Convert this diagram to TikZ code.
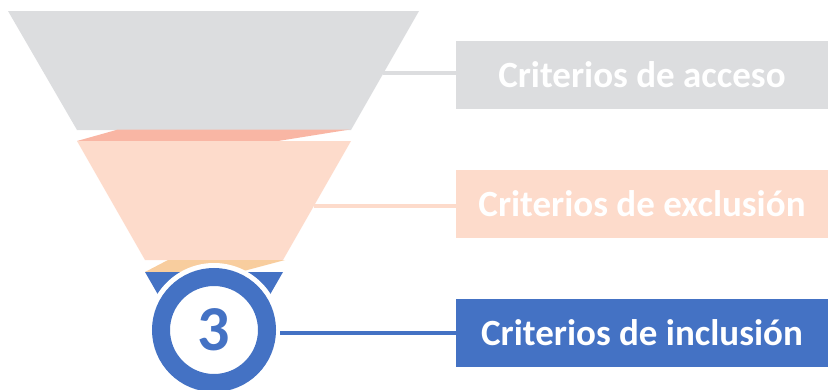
\documentclass[tikz,border=0pt]{standalone}
\usepackage{fontspec}
\setmainfont{Carlito}
\definecolor{tgray}{HTML}{DCDDDF}
\definecolor{tsalmon}{HTML}{F9B6A4}
\definecolor{tpeach}{HTML}{FDDBCB}
\definecolor{torange}{HTML}{F8CD9E}
\definecolor{tblue}{HTML}{4472C4}
\tikzset{
  label box/.style={minimum width=372pt, minimum height=68pt, inner sep=0pt, text=white,
    font=\fontsize{37}{37}\selectfont\bfseries},
  link/.style={line width=4pt}
}
\begin{document}
\begin{tikzpicture}[x=1pt,y=-1pt]
\useasboundingbox (0,0) rectangle (830,389);
\clip (0,0) rectangle (830,389);
% boxes
\node[label box, fill=tgray] (acc) at (642,75) {Criterios de acceso};
\node[label box, fill=tpeach] (exc) at (642,204) {Criterios de exclusión};
\node[label box, fill=tblue] (inc) at (642,332.5) {Criterios de inclusión};
% funnel levels
\coordinate (gr) at (383,73);
\coordinate (pr) at (314,206);
\draw[link, tgray] (gr) -- (gr -| acc.west);
\draw[link, tpeach] (pr) -- (pr -| exc.west);
\fill[tgray] (8,11) -- (419,11) -- (351,130) -- (77,130) -- cycle;
\fill[tsalmon] (77,141) -- (118,129.5) -- (350,129.5) -- (278,141) -- cycle;
\fill[tpeach] (77,141) -- (351,141) -- (283,260) -- (145,260) -- cycle;
\fill[torange] (145,272) -- (168,260) -- (285,260) -- (240,272) -- cycle;
\fill[tblue] (145,272) -- (283,272) -- (214,392) -- cycle;
% badge
\fill[white] (214,330) circle[radius=67pt];
\node[circle, draw=tblue, line width=18pt, fill=white, minimum size=106pt, inner sep=0pt,
  text=tblue, font=\fontsize{64}{64}\selectfont\bfseries] (num) at (214,330) {3};
\draw[link, tblue, shorten <=4pt] (num.east |- inc.west) -- (inc.west);
\end{tikzpicture}
\end{document}
